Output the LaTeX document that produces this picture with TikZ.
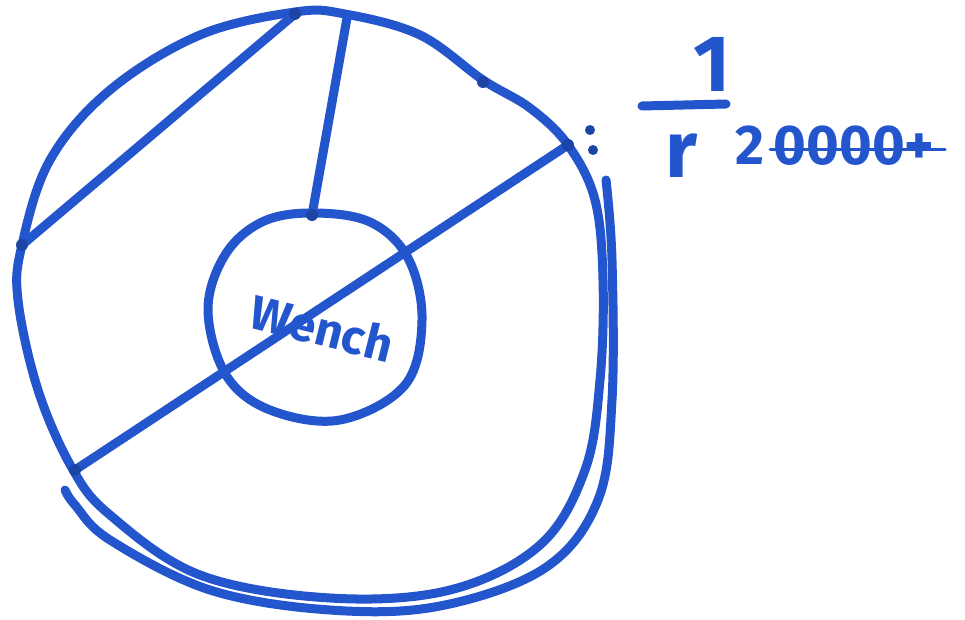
\documentclass[tikz,border=0pt]{standalone}
\usepackage{fontspec}
\setmainfont{Fira Sans}
\usepackage{tikz}
\usetikzlibrary{calc}
\definecolor{inkblue}{RGB}{35,85,205}

\begin{document}
\begin{tikzpicture}[x=1pt,y=-1pt,
  ink/.style={inkblue,line width=9pt,line cap=round,line join=round},
  dot/.style={circle,fill=inkblue!80!black,inner sep=0pt,minimum size=12pt},
  scrawl/.style={inkblue,font=\bfseries\fontsize{56}{56}\selectfont}]
  \useasboundingbox (0,0) rectangle (965,620);
  % outer circle
  \draw[ink] plot[smooth cycle,tension=0.6] coordinates{
    (295,12) (345,14) (420,35) (483,80) (530,108) (568,145) (595,200)
    (603,280) (600,380) (585,470) (540,545) (450,590) (330,598) (200,575)
    (110,515) (72,468) (38,390) (18,300) (22,245) (50,160) (110,90) (200,35)};
  % second stroke round the lower right
  \draw[ink] plot[smooth,tension=0.6] coordinates{
    (606,180) (612,260) (612,400) (598,500) (545,568) (440,606)
    (330,610) (210,590) (110,540) (75,505) (65,490)};
  % inner circle
  \draw[ink] plot[smooth cycle,tension=0.6] coordinates{
    (312,213) (370,222) (408,258) (422,320) (405,385) (340,420)
    (270,410) (226,375) (208,310) (225,255) (262,222)};
  % points on the rim
  \coordinate (top) at (295,14);
  \coordinate (left) at (22,245);
  \coordinate (spoke) at (347,18);
  \coordinate (hub) at (312,215);
  \coordinate (east) at (568,145);
  \coordinate (west) at (75,470);
  \coordinate (bump) at (483,82);
  \draw[ink] (left) -- (top);
  \draw[ink] (spoke) -- (hub);
  \draw[ink] (east) -- (west);
  \foreach \p in {top,left,east,west,bump,hub}
    \node[dot] at (\p) {};
  % colon beside the rim point
  \node[dot,minimum size=10pt] (c1) at (590,130) {};
  \node[dot,minimum size=10pt] (c2) at (593,150) {};
  % word in the hub
  \node[scrawl,font=\bfseries\fontsize{48}{48}\selectfont,rotate=-14] (word) at (322,328) {Wench};
  % label 1/r 2 ...
  \node[scrawl,font=\bfseries\fontsize{80}{80}\selectfont] (one) at (712,64) {1};
  \draw[ink] (642,106) -- (726,104);
  \node[scrawl,font=\bfseries\fontsize{80}{80}\selectfont] (r) at (682,156) {r};
  \node[scrawl,anchor=west] (rest) at (732,146) {2\,0000+};
  \draw[ink,line width=3pt] (770,150) -- (945,150);
\end{tikzpicture}
\end{document}
